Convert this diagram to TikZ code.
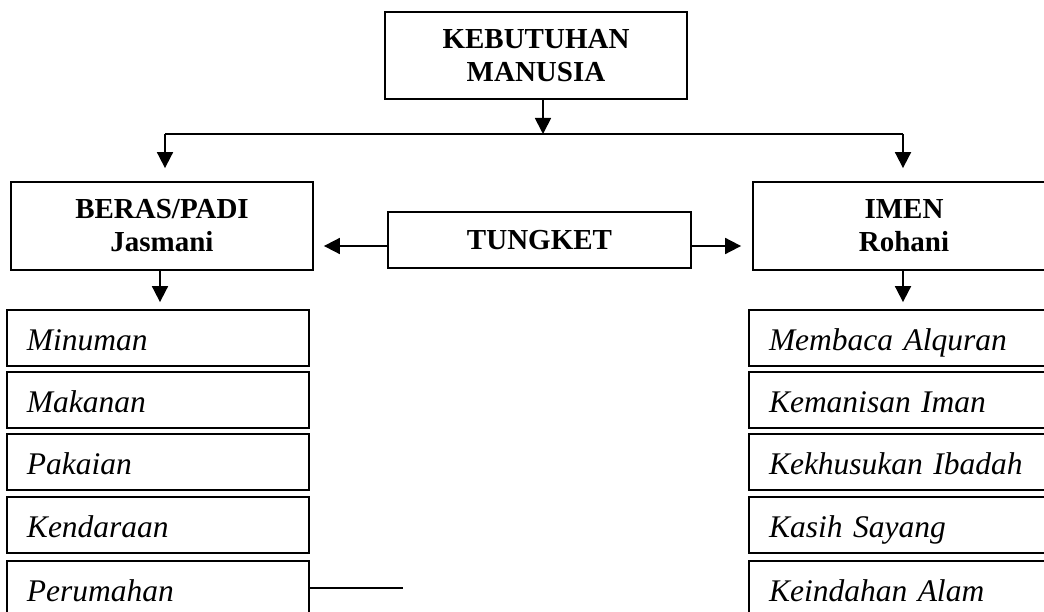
\documentclass[tikz,border=0pt]{standalone}
\usepackage{fontspec}
\setmainfont{Liberation Serif}
\usetikzlibrary{arrows.meta}
\tikzset{
  frame/.style={draw, line width=1.8pt, inner sep=0pt},
  headbox/.style={frame, align=center,
    font=\bfseries\fontsize{29}{33}\selectfont},
  itembox/.style={frame, minimum height=56pt, text width=262pt,
    inner xsep=20pt, align=left, text height=24pt, text depth=0pt,
    font=\itshape\fontsize{31.5}{38}\selectfont},
  link/.style={line width=1.8pt},
  arr/.style={link, -{Triangle[length=16pt,width=16pt]}}
}
\begin{document}
\begin{tikzpicture}[x=1pt,y=-1pt]
\useasboundingbox (0,0) rectangle (1044,612);
\clip (0,0) rectangle (1044,612);
\fill[white] (0,0) rectangle (1044,612);

% top level
\node[headbox, minimum width=302pt, minimum height=87pt] (need) at (536,55.5)
  {KEBUTUHAN\\MANUSIA};

% second level
\node[headbox, minimum width=302pt, minimum height=88pt] (jas) at (162,226)
  {BERAS/PADI\\Jasmani};
\node[headbox, minimum width=302pt, minimum height=88pt] (roh) at (904,226)
  {IMEN\\Rohani};
\node[headbox, minimum width=303pt, minimum height=56pt] (tk) at (539.5,240)
  {TUNGKET};

% physical needs
\node[itembox] (l1) at (158,338) {Minuman};
\node[itembox] (l2) at (158,400) {Makanan};
\node[itembox] (l3) at (158,462) {Pakaian};
\node[itembox] (l4) at (158,525) {Kendaraan};
\node[itembox] (l5) at (158,589) {Perumahan};

% spiritual needs
\node[itembox] (r1) at (900,338) {Membaca Alquran};
\node[itembox] (r2) at (900,400) {Kemanisan Iman};
\node[itembox] (r3) at (900,462) {Kekhusukan Ibadah};
\node[itembox] (r4) at (900,525) {Kasih Sayang};
\node[itembox] (r5) at (900,589) {Keindahan Alam};

% branching from the top box
\coordinate (split) at (543,134);
\coordinate (bl) at (165,134);
\coordinate (br) at (903,134);
\draw[arr] (need.south -| split) -- (split);
\draw[link] (bl) -- (br);
\draw[arr, shorten >=13pt] (bl) -- (bl |- jas.north);
\draw[arr, shorten >=13pt] (br) -- (br |- roh.north);

% TUNGKET links
\coordinate (ay) at (0,246);
\draw[arr, shorten >=10pt] (tk.west |- ay) -- (jas.east |- ay);
\draw[arr, shorten >=11pt] (tk.east |- ay) -- (roh.west |- ay);

% down to the lists
\draw[arr, shorten >=7pt] ([xshift=-2pt]jas.south) -- ([xshift=-2pt]jas.south |- l1.north);
\draw[arr, shorten >=7pt] ([xshift=-1pt]roh.south) -- ([xshift=-1pt]roh.south |- r1.north);

% short stub from the last item
\coordinate (pend) at (403,588);
\draw[link] (l5.east |- pend) -- (pend);
\end{tikzpicture}
\end{document}
